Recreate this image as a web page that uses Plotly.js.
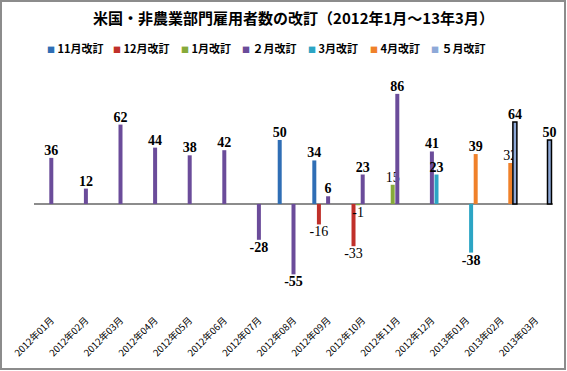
<!DOCTYPE html>
<html>
<head>
<meta charset="utf-8">
<script src="https://cdn.plot.ly/plotly-3.0.1.min.js"></script>
<style>
  html, body { margin: 0; padding: 0; background: #fff; }
  #wrap { position: relative; width: 567px; height: 371px; }
  #chart { width: 567px; height: 371px; }
  #frame { position: absolute; left: 0; top: 0; width: 566px; height: 370px;
           box-sizing: border-box; border: 2px solid #8c8c8c; pointer-events: none; }
</style>
</head>
<body>
<div id="wrap"><div id="chart"></div><div id="frame"></div></div>
<script>
// ---- data ----
const months = ["2012年01月","2012年02月","2012年03月","2012年04月","2012年05月","2012年06月",
                "2012年07月","2012年08月","2012年09月","2012年10月","2012年11月","2012年12月",
                "2013年01月","2013年02月","2013年03月"];
const seriesNames = ["11月改訂","12月改訂","1月改訂","２月改訂","3月改訂","4月改訂","５月改訂"];
const rev11 = [null,null,null,null,null,null,null,50,34,null,null,null,null,null,null];
const rev12 = [null,null,null,null,null,null,null,null,-16,-33,null,null,null,null,null];
const rev01 = [null,null,null,null,null,null,null,null,null,-1,15,null,null,null,null];
const rev02 = [36,12,62,44,38,42,-28,-55,6,23,86,41,null,null,null];
const rev03 = [null,null,null,null,null,null,null,null,null,null,null,23,-38,null,null];
const rev04 = [null,null,null,null,null,null,null,null,null,null,null,null,39,32,null];
const rev05 = [null,null,null,null,null,null,null,null,null,null,null,null,null,64,50];
const allSeries = [rev11, rev12, rev01, rev02, rev03, rev04, rev05];

// ---- styles ----
const colors = ["#2F6EB5","#C0302A","#86AA3A","#6B4C9A","#2CA5C4","#F0812A","#8EA9D8"];
const lineColors = [null,null,null,null,null,null,"#000000"];
const labelWeights = ["bold","normal","normal","bold","bold",
                      months.map(m => (m === "2013年01月" ? "bold" : "normal")),"bold"];
const labelFont = "Liberation Serif, Times New Roman, serif";
const cjk = "Noto Sans CJK JP, sans-serif";

const W = 567, H = 371;
const M = { l: 34, r: 14, t: 62, b: 59 };
const plotW = W - M.l - M.r;

const traces = allSeries.map((vals, i) => ({
  type: "bar",
  name: seriesNames[i],
  x: months,
  y: vals,
  text: vals.map(v => (v === null ? "" : String(v))),
  textposition: "outside",
  constraintext: "none",
  cliponaxis: false,
  textfont: { family: labelFont, size: 14, color: "#000", weight: labelWeights[i] },
  marker: {
    color: colors[i],
    line: lineColors[i] ? { color: lineColors[i], width: 1.5 } : { width: 0 }
  },
  hoverinfo: "x+y+name"
}));

// legend drawn as a row of text entries (Excel style: small square right before the name)
const legendLeftPx = [45, 111, 179, 240, 306, 368, 429];
const legendAnn = seriesNames.map((nm, i) => ({
  xref: "paper", yref: "paper",
  x: (legendLeftPx[i] - M.l) / plotW,
  y: 1 + (M.t - 48) / (H - M.t - M.b),
  xanchor: "left", yanchor: "middle",
  showarrow: false,
  text: '<span style="color:' + colors[i] + ';font-size:8px">■</span> ' + nm,
  font: { family: cjk, size: 11, color: "#000", weight: "bold" }
}));

const layout = {
  width: W, height: H,
  margin: { l: M.l, r: M.r, t: M.t, b: M.b, autoexpand: false },
  paper_bgcolor: "#ffffff",
  plot_bgcolor: "#ffffff",
  barmode: "group",
  bargap: 0.07,
  bargroupgap: 0.13,
  showlegend: false,
  title: {
    text: "米国・非農業部門雇用者数の改訂（2012年1月～13年3月）",
    font: { family: cjk, size: 15, color: "#000", weight: "bold" },
    x: 0.5, xanchor: "center", xref: "paper",
    y: 1 - 19/H, yanchor: "middle", yref: "container"
  },
  annotations: legendAnn,
  xaxis: {
    type: "category",
    categoryorder: "array",
    categoryarray: months,
    automargin: false,
    showgrid: false,
    showline: false,
    zeroline: false,
    ticks: "",
    tickangle: -45,
    tickfont: { family: cjk, size: 9.5, color: "#000" },
    range: [-0.5, 14.5]
  },
  yaxis: {
    range: [-84.4, 110.9],
    automargin: false,
    showgrid: false,
    showticklabels: false,
    ticks: "",
    showline: false,
    zeroline: true,
    zerolinecolor: "#8c8c8c",
    zerolinewidth: 1.5
  }
};

Plotly.newPlot("chart", traces, layout, { staticPlot: true, displayModeBar: false });
</script>
</body>
</html>
